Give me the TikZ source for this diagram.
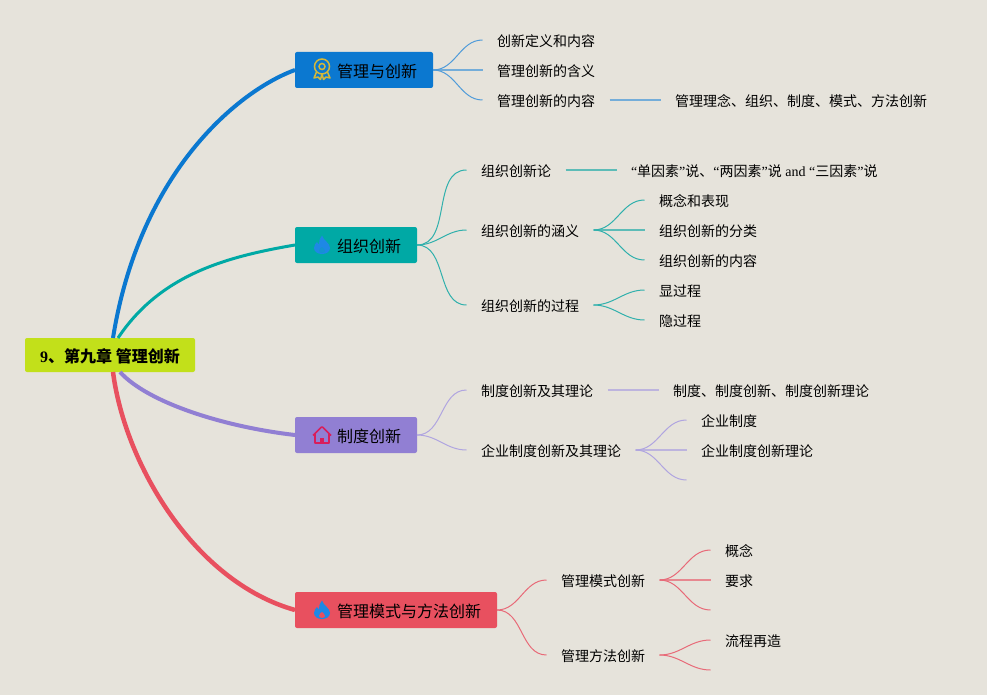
\documentclass[tikz,border=0pt]{standalone}
\usepackage{fontspec}
\setmainfont{Liberation Serif}
\newfontfamily\cjk{Noto Sans CJK SC}
\newcommand{\lat}[1]{{\rmfamily #1}}
\usepackage{xcolor}
\usepackage{tikz}
\usetikzlibrary{positioning}

\definecolor{paper}{HTML}{E6E3DB}
\definecolor{rootgreen}{HTML}{C2E01A}
\definecolor{topicblue}{HTML}{0B78D0}
\definecolor{topicteal}{HTML}{00A9A5}
\definecolor{topicpurple}{HTML}{917FD3}
\definecolor{topicred}{HTML}{E8505F}
\definecolor{twigblue}{HTML}{4F9BD9}
\definecolor{twigteal}{HTML}{30B0AC}
\definecolor{twigpurple}{HTML}{B0A5E0}
\definecolor{twigred}{HTML}{E86A78}
\definecolor{flamecolor}{HTML}{1E88E5}

\begin{document}
\begin{tikzpicture}[
    x=1pt, y=1pt,
    rootbox/.style={rectangle, rounded corners=2pt, fill=rootgreen, minimum width=170pt, minimum height=34pt, inner sep=0pt, outer sep=0pt, text height=18pt, text depth=2.4pt, font=\cjk\bfseries\fontsize{16}{18}\selectfont},
    topic/.style={rectangle, rounded corners=2pt, minimum height=36pt, inner xsep=16pt, inner ysep=0pt, outer sep=0pt, text height=18pt, text depth=2.4pt, font=\cjk\fontsize{16}{18}\selectfont, execute at begin node=\hspace*{26pt}},
    leaf/.style={rectangle, inner xsep=14.5pt, inner ysep=0pt, outer sep=0pt, text height=15.4pt, text depth=2pt, font=\cjk\fontsize{14}{16}\selectfont},
    bough/.style={line width=#1},
    twig/.style={line width=1pt},
    stem/.style={line width=1.6pt, opacity=0.75},
    fork/.style={out=0, in=180, looseness=1},
    rosette/.pic={
        \draw[line width=1.5pt] (0,3.5) circle (7.5);
        \draw[line width=1.5pt] (0,3.5) circle (3);
        \draw[line width=1.5pt, line join=round] (-5.5,-2) -- (-8,-8) -- (-4,-7) -- (-1.5,-9.5) -- (0,-4) -- (1.5,-9.5) -- (4,-7) -- (8,-8) -- (5.5,-2);
    },
    flame/.pic={
        \fill[flamecolor] (0,9.5) .. controls (1,5) and (8,2) .. (8,-3) .. controls (8,-7) and (4,-9) .. (0,-9) .. controls (-4,-9) and (-8,-7) .. (-8,-3) .. controls (-8,0) and (-6,2) .. (-5,3) .. controls (-4.5,1.5) and (-3.5,1) .. (-3,1) .. controls (-3.5,4) and (-2,7) .. (0,9.5) -- cycle;
        \fill[pic actions] (0,-2) .. controls (-1,-2.5) and (-3,-4) .. (-3,-6) .. controls (-3,-8.5) and (3,-8.5) .. (3,-6) .. controls (3,-4) and (1,-3) .. (0,-2) -- cycle;
    },
    house/.pic={
        \draw[line width=1.5pt, line join=round, rounded corners=1pt] (-9,-0.5) -- (0,8.5) -- (9,-0.5);
        \draw[line width=1.5pt, line join=round] (-7,1) -- (-7,-8) -- (7,-8) -- (7,1);
        \fill (-2,-8) rectangle (2,-2.5);
    },
]
    \fill[paper] (0,0) rectangle (987,-695);

    % Root
    \node[rootbox] (root) at (110,-355) {\lat{9}、第九章 管理创新};

    % Main topics
    \node[topic, fill=topicblue, above right=250pt and 100pt of root] (mgmt) {管理与创新};
    \node[topic, fill=topicteal, above right=75pt and 100pt of root] (org) {组织创新};
    \node[topic, fill=topicpurple, below right=45pt and 100pt of root] (sys) {制度创新};
    \node[topic, fill=topicred, below right=220pt and 100pt of root] (mode) {管理模式与方法创新};

    % Topic icons
    \pic[draw={rgb,255:red,212;green,184;blue,58}] at ([xshift=27pt]mgmt.west) {rosette};
    \pic[fill=flamecolor!70!topicteal] at ([xshift=27pt]org.west) {flame};
    \pic[draw={rgb,255:red,216;green,30;blue,91}, fill={rgb,255:red,216;green,30;blue,91}] at ([xshift=27pt]sys.west) {house};
    \pic[fill=topicred] at ([xshift=27pt]mode.west) {flame};

    % Branch 1
    \node[leaf, right=49.5pt of mgmt, yshift=30pt] (mgmtdef) {创新定义和内容};
    \node[leaf, right=49.5pt of mgmt] (mgmtmean) {管理创新的含义};
    \node[leaf, right=49.5pt of mgmt, yshift=-30pt] (mgmtcont) {管理创新的内容};
    \node[leaf, right=51pt of mgmtcont] (mgmtlist) {管理理念、组织、制度、模式、方法创新};

    % Branch 2
    \node[leaf, right=49.5pt of org, yshift=75pt] (orgtheory) {组织创新论};
    \node[leaf, right=51pt of orgtheory] (orgfactor) {\lat{“}单因素\lat{”}说、\lat{“}两因素\lat{”}说\lat{ and “}三因素\lat{”}说};
    \node[leaf, right=49.5pt of org, yshift=15pt] (orgmean) {组织创新的涵义};
    \node[leaf, right=51pt of orgmean, yshift=30pt] (orgidea) {概念和表现};
    \node[leaf, right=51pt of orgmean] (orgkind) {组织创新的分类};
    \node[leaf, right=51pt of orgmean, yshift=-30pt] (orgcont) {组织创新的内容};
    \node[leaf, right=49.5pt of org, yshift=-60pt] (orgproc) {组织创新的过程};
    \node[leaf, right=51pt of orgproc, yshift=15pt] (orgshow) {显过程};
    \node[leaf, right=51pt of orgproc, yshift=-15pt] (orghide) {隐过程};

    % Branch 3
    \node[leaf, right=49.5pt of sys, yshift=45pt] (systheory) {制度创新及其理论};
    \node[leaf, right=51pt of systheory] (syslist) {制度、制度创新、制度创新理论};
    \node[leaf, right=49.5pt of sys, yshift=-15pt] (sysfirm) {企业制度创新及其理论};
    \node[leaf, right=51pt of sysfirm, yshift=30pt] (sysinst) {企业制度};
    \node[leaf, right=51pt of sysfirm] (sysnew) {企业制度创新理论};
    \coordinate[right=51pt of sysfirm, yshift=-30pt] (sysend);

    % Branch 4
    \node[leaf, right=49.5pt of mode, yshift=30pt] (modepat) {管理模式创新};
    \node[leaf, right=51pt of modepat, yshift=30pt] (modeidea) {概念};
    \node[leaf, right=51pt of modepat] (modereq) {要求};
    \coordinate[right=51pt of modepat, yshift=-30pt] (modeend);
    \node[leaf, right=49.5pt of mode, yshift=-45pt] (modeway) {管理方法创新};
    \node[leaf, right=51pt of modeway, yshift=15pt] (modeflow) {流程再造};
    \coordinate[right=51pt of modeway, yshift=-15pt] (wayend);

    % Boughs
    \draw[bough=4pt, topicblue] ([xshift=3pt]root.north) .. controls +(27,168) and +(-55,-20) .. (mgmt.west);
    \draw[bough=3pt, topicteal] ([xshift=8pt]root.north) .. controls +(42,63) and +(-70,-12) .. (org.west);
    \draw[bough=4pt, topicpurple] ([xshift=10pt]root.south) .. controls +(28,-31) and +(-70,8) .. (sys.west);
    \draw[bough=4.5pt, topicred] ([xshift=3pt]root.south) .. controls +(12,-93) and +(-100,28) .. (mode.west);

    % Twigs
    \draw[twig, twigblue] (mgmt.east) to[fork] (mgmtdef.west);
    \draw[stem, twigblue] (mgmt.east) -- (mgmtmean.west);
    \draw[twig, twigblue] (mgmt.east) to[fork] (mgmtcont.west);
    \draw[stem, twigblue] (mgmtcont.east) -- (mgmtlist.west);

    \draw[twig, twigteal] (org.east) to[fork] (orgtheory.west);
    \draw[twig, twigteal] (org.east) to[fork] (orgmean.west);
    \draw[twig, twigteal] (org.east) to[fork] (orgproc.west);
    \draw[stem, twigteal] (orgtheory.east) -- (orgfactor.west);
    \draw[twig, twigteal] (orgmean.east) to[fork] (orgidea.west);
    \draw[stem, twigteal] (orgmean.east) -- (orgkind.west);
    \draw[twig, twigteal] (orgmean.east) to[fork] (orgcont.west);
    \draw[twig, twigteal] (orgproc.east) to[fork] (orgshow.west);
    \draw[twig, twigteal] (orgproc.east) to[fork] (orghide.west);

    \draw[twig, twigpurple] (sys.east) to[fork] (systheory.west);
    \draw[twig, twigpurple] (sys.east) to[fork] (sysfirm.west);
    \draw[stem, twigpurple] (systheory.east) -- (syslist.west);
    \draw[twig, twigpurple] (sysfirm.east) to[fork] (sysinst.west);
    \draw[stem, twigpurple] (sysfirm.east) -- (sysnew.west);
    \draw[twig, twigpurple] (sysfirm.east) to[fork] (sysend);

    \draw[twig, twigred] (mode.east) to[fork] (modepat.west);
    \draw[twig, twigred] (mode.east) to[fork] (modeway.west);
    \draw[twig, twigred] (modepat.east) to[fork] (modeidea.west);
    \draw[stem, twigred] (modepat.east) -- (modereq.west);
    \draw[twig, twigred] (modepat.east) to[fork] (modeend);
    \draw[twig, twigred] (modeway.east) to[fork] (modeflow.west);
    \draw[twig, twigred] (modeway.east) to[fork] (wayend);
\end{tikzpicture}
\end{document}
